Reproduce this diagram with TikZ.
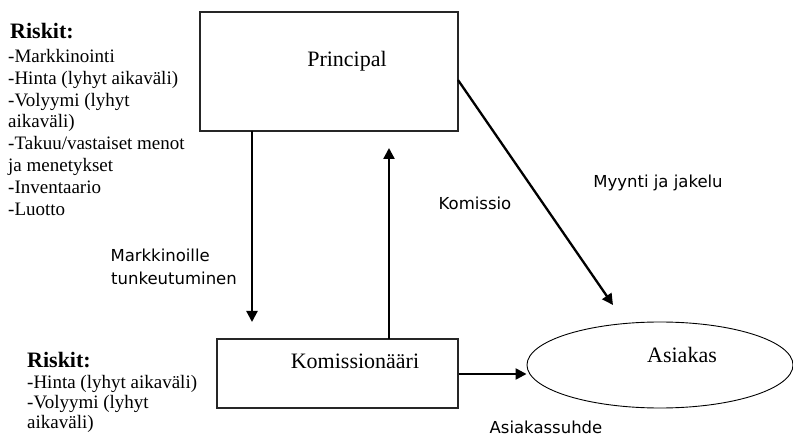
\documentclass[tikz,border=0pt]{standalone}
\usepackage{fontspec}
\setmainfont{Liberation Serif}
\newfontfamily\sansf{DejaVu Sans}
\usetikzlibrary{shapes.geometric,arrows.meta}
\begin{document}
\begin{tikzpicture}[x=1pt,y=-1pt,
  box/.style={draw=black!85,line width=1.2pt,inner sep=0pt},
  bigtext/.style={font=\fontsize{22}{26}\selectfont,inner sep=0pt,anchor=base},
  lbl/.style={font=\sansf\fontsize{16.5}{20}\selectfont,inner sep=0pt,anchor=base},
  head/.style={font=\bfseries\fontsize{22}{26}\selectfont,inner sep=0pt,anchor=base west},
  risk/.style={font=\fontsize{19}{21.85}\selectfont,inner sep=0pt,align=left,anchor=north west},
  arr/.style={line width=2.3pt,-{Triangle[length=11pt,width=11pt]}}]
\useasboundingbox[fill=white] (0,0) rectangle (793,438);
% boxes
\node[box,minimum width=258pt,minimum height=119pt] (P) at (329,71.5) {};
\node[bigtext] (Pt) at (347,67) {Principal};
\node[box,minimum width=241pt,minimum height=69pt] (K) at (337.5,373.5) {};
\node[bigtext] (Kt) at (355,369) {Komissionääri};
\node[draw=black,line width=0.9pt,ellipse,minimum width=266pt,minimum height=86pt,inner sep=0pt] (A) at (660,365) {};
\node[bigtext] (At) at (682,363) {Asiakas};
% risk texts
\node[head] (R1) at (10,38.5) {Riskit:};
\node[risk] (L1) at (8,49) {-Markkinointi\\-Hinta (lyhyt aikaväli)\\-Volyymi (lyhyt\\aikaväli)\\-Takuu/vastaiset menot\\ja menetykset\\-Inventaario\\-Luotto};
\node[head] (R2) at (27,368) {Riskit:};
\node[risk,font=\fontsize{19}{20}\selectfont] (L2) at (27,375) {-Hinta (lyhyt aikaväli)\\-Volyymi (lyhyt\\aikaväli)};
% labels
\node[lbl] (Kom) at (475,210) {Komissio};
\node[lbl] (Myy) at (658,188) {Myynti ja jakelu};
\node[lbl] (Asu) at (546,434) {Asiakassuhde};
\node[lbl,anchor=base east] (Mk1) at (210,262) {Markkinoille};
\node[lbl,anchor=base east] (Mk2) at (237,285) {tunkeutuminen};
% coordinates
\coordinate (downS) at (252,131);
\coordinate (downE) at (252,322);
\coordinate (upS) at (389,339);
\coordinate (upE) at (389,148);
\coordinate (diagS) at (458,80);
\coordinate (diagE) at (613,305);
% arrows
\draw[arr] (downS) -- (downE);
\draw[arr] (upS) -- (upE);
\draw[arr] (diagS) -- (diagE);
\draw[arr] (K.east |- 0,374) -- (A.west |- 0,374);
\end{tikzpicture}
\end{document}
